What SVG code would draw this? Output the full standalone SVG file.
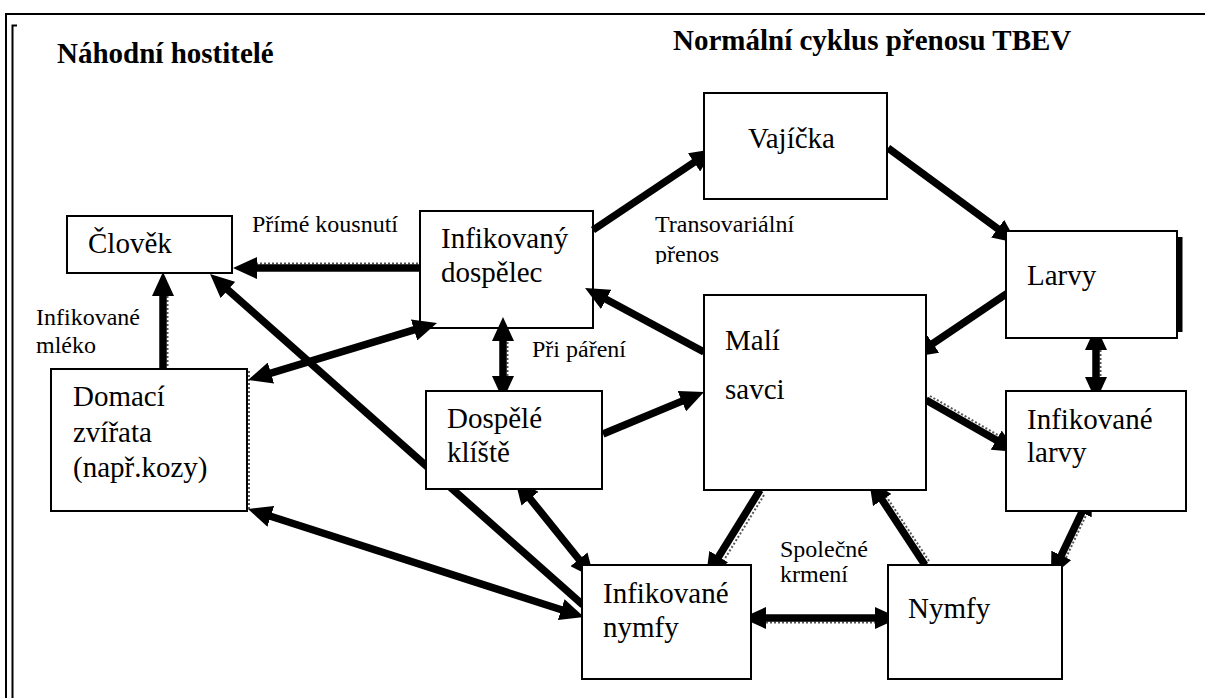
<svg xmlns="http://www.w3.org/2000/svg" width="1205" height="698" viewBox="0 0 1205 698" font-family="'Liberation Serif', 'Times New Roman', serif">
<style>
text{font-family:"Liberation Serif","Times New Roman",serif;fill:#000}
.t{font-size:29px;font-weight:bold}
.n{font-size:29px}
.l{font-size:24px}
.box{fill:#fff;stroke:#000;stroke-width:2}
.c{stroke:#000;stroke-width:7.5;fill:none}
.a{marker-end:url(#ah)}
.d{marker-start:url(#ah);marker-end:url(#ah)}
.shd{stroke:#555;stroke-width:2;stroke-dasharray:2 2;fill:none}
</style>
<defs>
<marker id="ah" viewBox="0 0 24 22" refX="6" refY="11" markerWidth="24" markerHeight="22" markerUnits="userSpaceOnUse" orient="auto-start-reverse">
<path d="M0,0 L24,11 L0,22 Z" fill="#000"/>
</marker>
<clipPath id="cp"><rect x="600" y="200" width="200" height="64"/></clipPath>
</defs>
<rect width="1205" height="698" fill="#fff"/>
<g id="frame" fill="none" stroke="#000" stroke-width="2">
<path d="M5,14 H1205"/>
<path d="M6,13 V698"/>
<path d="M17,25.5 H12.5 V698"/>
</g>
<g id="titles">
<text class="t" x="57" y="63" font-family="'Liberation Serif', serif">Náhodní hostitelé</text>
<text class="t" x="673" y="50" font-family="'Liberation Serif', serif">Normální cyklus přenosu TBEV</text>
</g>
<g id="labels" font-family="'Liberation Serif', serif">
<text class="l" x="252" y="232">Přímé kousnutí</text>
<text class="l" x="655" y="232">Transovariální</text>
<text class="l" x="655" y="262" clip-path="url(#cp)">přenos</text>
<text class="l" x="36" y="325">Infikované</text>
<text class="l" x="36" y="353">mléko</text>
<text class="l" x="532" y="357">Při páření</text>
<text class="l" x="780" y="557">Společné</text>
<text class="l" x="780" y="582">krmení</text>
</g>
<g id="connectors">
<path class="shd" d="M252,263.5 H420"/>
<path class="shd" d="M167.5,292 V369"/>
<path class="shd" d="M507.5,338 V380"/>
<path class="shd" d="M1100.5,346 V381"/>
<path class="shd" d="M764,495 L721,565"/>
<path class="shd" d="M929,561 L884,493"/>
<path class="shd" d="M1089,509 L1064,562"/>
<path class="shd" d="M762,622.5 H880"/>
<path class="shd" d="M930,396 L1003,438"/>
<path class="shd" d="M249,371 V511"/>
<path class="c a" d="M420,268 L251,268"/>
<path class="c a" d="M163,369 L163,290"/>
<path class="c a" d="M583,605 L223.5,286"/>
<path class="c d" d="M419.8,328.2 L265.2,374.8"/>
<path class="c d" d="M265.1,514.5 L566.9,611.5"/>
<path class="c d" d="M526.3,494 L582.7,564"/>
<path class="c d" d="M503,335 L503,382"/>
<path class="c a" d="M603,434 L687.4,398.9"/>
<path class="c a" d="M704,352 L600.9,296.5"/>
<path class="c a" d="M593,230 L699,159"/>
<path class="c a" d="M888,148 L1002.5,232.3"/>
<path class="c a" d="M1018,286 L927.9,346.9"/>
<path class="c d" d="M1096,344 L1096,383"/>
<path class="c a" d="M926,400 L1001.4,443.1"/>
<path class="c d" d="M1084.3,507.2 L1058.7,560.8"/>
<path class="c a" d="M760,490 L715.5,561.7"/>
<path class="c a" d="M925,565 L878.9,495"/>
<path class="c d" d="M760,618 L881,618"/>
</g>
<g id="nodes" font-family="'Liberation Serif', serif">
<g id="clovek">
<rect class="box" x="67" y="216" width="165" height="57"/>
<text class="n" x="88" y="253">Člověk</text>
</g>
<g id="infikovany-dospelec">
<rect class="box" x="420" y="211" width="173" height="117" fill-opacity="0"/>
<text class="n" x="441" y="248">Infikovaný</text>
<text class="n" x="441" y="282">dospělec</text>
</g>
<g id="vajicka">
<rect class="box" x="704" y="93" width="183" height="106"/>
<text class="n" x="748" y="148">Vajíčka</text>
</g>
<g id="larvy">
<rect class="box" x="1006" y="231" width="171" height="107"/>
<path d="M1180,237 V332" stroke="#000" stroke-width="5"/>
<text class="n" x="1027" y="285">Larvy</text>
</g>
<g id="mali-savci">
<rect class="box" x="704" y="295" width="222" height="195"/>
<text class="n" x="725" y="350">Malí</text>
<text class="n" x="725" y="399">savci</text>
</g>
<g id="infikovane-larvy">
<rect class="box" x="1006" y="391" width="180" height="120"/>
<text class="n" x="1027" y="429">Infikované</text>
<text class="n" x="1027" y="462">larvy</text>
</g>
<g id="domaci-zvirata">
<rect class="box" x="51" y="369" width="196" height="142"/>
<text class="n" x="73" y="406">Domací</text>
<text class="n" x="73" y="442">zvířata</text>
<text class="n" x="73" y="477">(např.kozy)</text>
</g>
<g id="dospele-kliste">
<rect class="box" x="426" y="391" width="176" height="98"/>
<text class="n" x="447" y="428">Dospělé</text>
<text class="n" x="447" y="462">klíště</text>
</g>
<g id="infikovane-nymfy">
<rect class="box" x="582" y="565" width="169" height="114"/>
<text class="n" x="603" y="603">Infikované</text>
<text class="n" x="603" y="637">nymfy</text>
</g>
<g id="nymfy">
<rect class="box" x="888" y="565" width="174" height="114"/>
<text class="n" x="908" y="618">Nymfy</text>
</g>
</g>
</svg>
